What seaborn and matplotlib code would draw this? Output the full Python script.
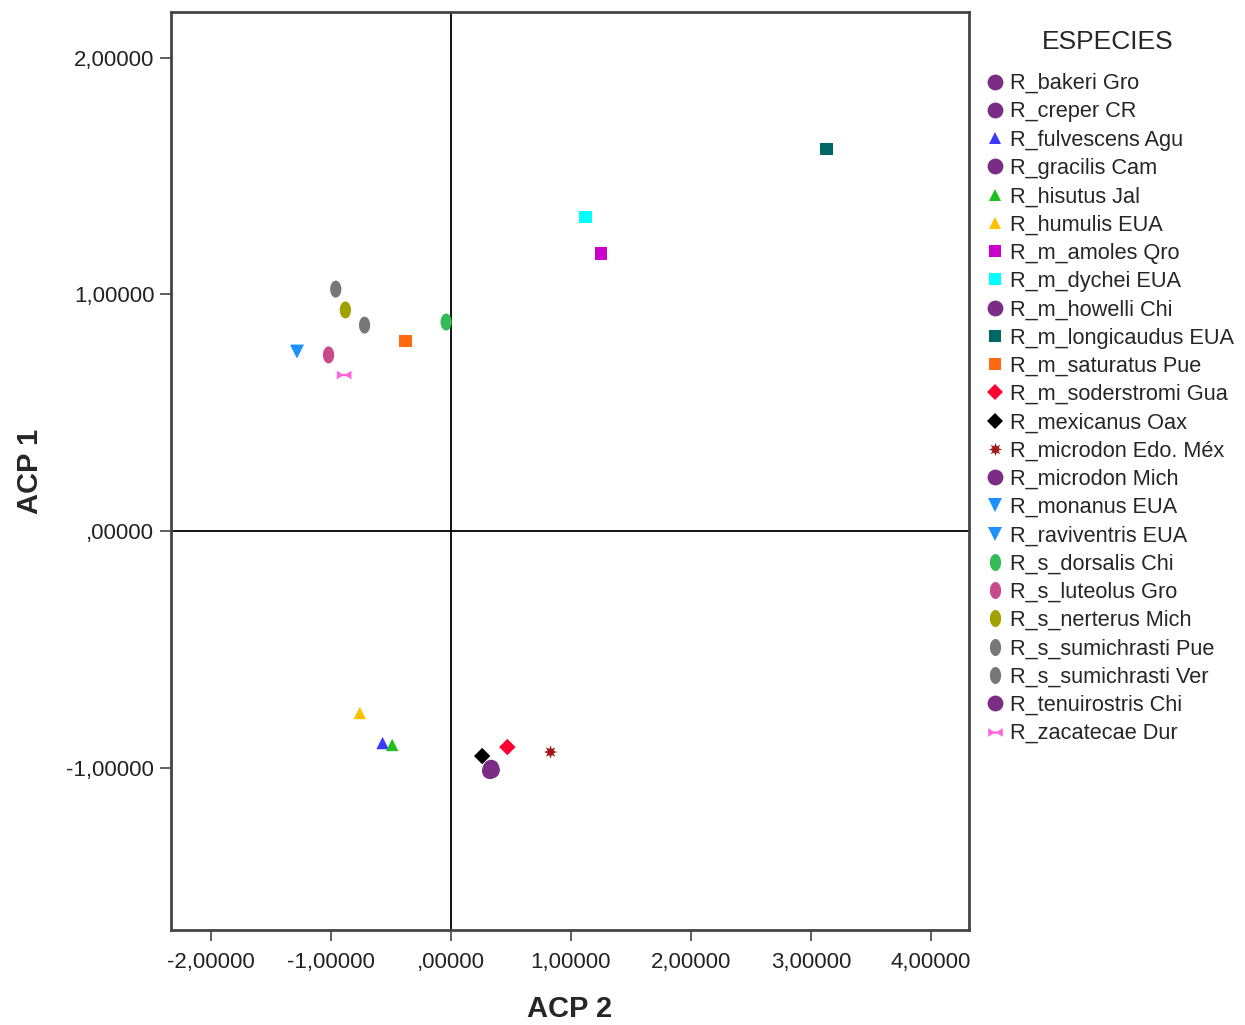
import numpy as np
import pandas as pd
import matplotlib
matplotlib.use("Agg")
import matplotlib.pyplot as plt
from matplotlib.path import Path
from matplotlib.ticker import FixedLocator, FuncFormatter
import seaborn as sns

# ---------------- data ----------------
species = ["R_bakeri Gro", "R_creper CR", "R_fulvescens Agu", "R_gracilis Cam",
           "R_hisutus Jal", "R_humulis EUA", "R_m_amoles Qro", "R_m_dychei EUA",
           "R_m_howelli Chi", "R_m_longicaudus EUA", "R_m_saturatus Pue",
           "R_m_soderstromi Gua", "R_mexicanus Oax", "R_microdon Edo. Méx",
           "R_microdon Mich", "R_monanus EUA", "R_raviventris EUA",
           "R_s_dorsalis Chi", "R_s_luteolus Gro", "R_s_nerterus Mich",
           "R_s_sumichrasti Pue", "R_s_sumichrasti Ver", "R_tenuirostris Chi",
           "R_zacatecae Dur"]
acp2 = [0.33, 0.34, -0.57, 0.325, -0.49, -0.76, 1.25, 1.12, 0.335, 3.13, -0.38,
        0.47, 0.26, 0.83, 0.34, -1.28, -1.285, -0.04, -1.02, -0.88, -0.96,
        -0.72, 0.33, -0.89]
acp1 = [-1.005, -1.012, -0.896, -1.015, -0.904, -0.769, 1.174, 1.327, -1.0,
        1.614, 0.803, -0.913, -0.951, -0.934, -1.008, 0.760, 0.758, 0.883,
        0.744, 0.934, 1.022, 0.870, -1.01, 0.659]
colors = ["#7B2C85", "#7B2C85", "#3a3aff", "#7B2C85", "#1fbf1f", "#ffc000",
          "#cc00cc", "#00ffff", "#7B2C85", "#006666", "#ff6a10", "#ff0033",
          "#000000", "#a01818", "#7B2C85", "#1e90ff", "#1e90ff", "#33bb55",
          "#c84a8c", "#a0a000", "#777777", "#777777", "#7B2C85", "#ff66dd"]
marker_kinds = ["o", "o", "^", "o", "^", "^", "s", "s", "o", "s", "s", "D",
                "D", "star", "o", "v", "v", "ell", "ell", "ell", "ell", "ell",
                "o", "bow"]
x_ticks = [-2, -1, 0, 1, 2, 3, 4]
y_ticks = [-1, 0, 1, 2]

# ---------------- marker shapes ----------------
t = np.linspace(0, 2 * np.pi, 40)
ellipse = Path(np.column_stack([0.33 * np.cos(t), 0.5 * np.sin(t)]), closed=True)
bowtie = Path([(-0.5, 0.3), (-0.5, -0.3), (-0.15, -0.08), (0.15, -0.08),
               (0.5, -0.3), (0.5, 0.3), (0.15, 0.08), (-0.15, 0.08), (-0.5, 0.3)],
              closed=True)
shape_map = {"o": "o", "^": "^", "s": "s", "D": "D", "v": "v",
             "star": (8, 1, 0), "ell": ellipse, "bow": bowtie}
size_map = {"o": 130, "^": 80, "s": 85, "D": 70, "v": 90, "star": 90,
            "ell": 150, "bow": 110}

df = pd.DataFrame({"ESPECIES": species, "ACP 2": acp2, "ACP 1": acp1})
palette = dict(zip(species, colors))
markers = {s: shape_map[k] for s, k in zip(species, marker_kinds)}
sizes = {s: size_map[k] for s, k in zip(species, marker_kinds)}

# ---------------- figure ----------------
sns.set_theme(style="white")
plt.rcParams["font.family"] = ["Liberation Sans", "DejaVu Sans"]

fig = plt.figure(figsize=(12.45, 10.25), dpi=100)
ax = fig.add_axes([171 / 1245, 1 - 930 / 1025, (969 - 171) / 1245, (930 - 12) / 1025])

ax.axhline(0, color="black", lw=1.3, zorder=1)
ax.axvline(0, color="black", lw=1.3, zorder=1)

sns.scatterplot(data=df, x="ACP 2", y="ACP 1", hue="ESPECIES", style="ESPECIES",
                size="ESPECIES", hue_order=species, style_order=species,
                size_order=species, palette=palette, markers=markers,
                sizes=sizes, linewidth=0, ax=ax, zorder=3, legend="full")

ax.set_xlim(-2.333, 4.317)
ax.set_ylim(-1.686, 2.193)

def fmt(v, pos=None):
    if abs(v) < 1e-9:
        return ",00000"
    return f"{v:.5f}".replace(".", ",")

ax.xaxis.set_major_locator(FixedLocator(x_ticks))
ax.yaxis.set_major_locator(FixedLocator(y_ticks))
ax.xaxis.set_major_formatter(FuncFormatter(fmt))
ax.yaxis.set_major_formatter(FuncFormatter(fmt))
ax.tick_params(axis="both", which="major", direction="out", length=8, width=1.2,
               color="#444444", labelsize=16, labelcolor="#222222", pad=4,
               bottom=True, left=True)
ax.tick_params(axis="x", pad=8)
for sp in ax.spines.values():
    sp.set_color("#444444")
    sp.set_linewidth(2)

ax.set_xlabel("ACP 2", fontsize=21, fontweight="bold", labelpad=16)
ax.set_ylabel("ACP 1", fontsize=21, fontweight="bold", labelpad=16)

handles, labels = ax.get_legend_handles_labels()
ax.get_legend().remove()
for h in handles:
    try:
        h.set_markeredgewidth(0)
    except Exception:
        pass
leg = fig.legend(handles, labels, title="ESPECIES", loc="upper left",
                 bbox_to_anchor=(973 / 1245, 1 - 21 / 1025), frameon=False,
                 fontsize=15.7, title_fontsize=19, labelspacing=0.333,
                 handletextpad=0.1, handlelength=1.2, borderaxespad=0)
leg._legend_box.align = "center"
leg._legend_box.sep = 14

fig.savefig("out.png", dpi=100)
